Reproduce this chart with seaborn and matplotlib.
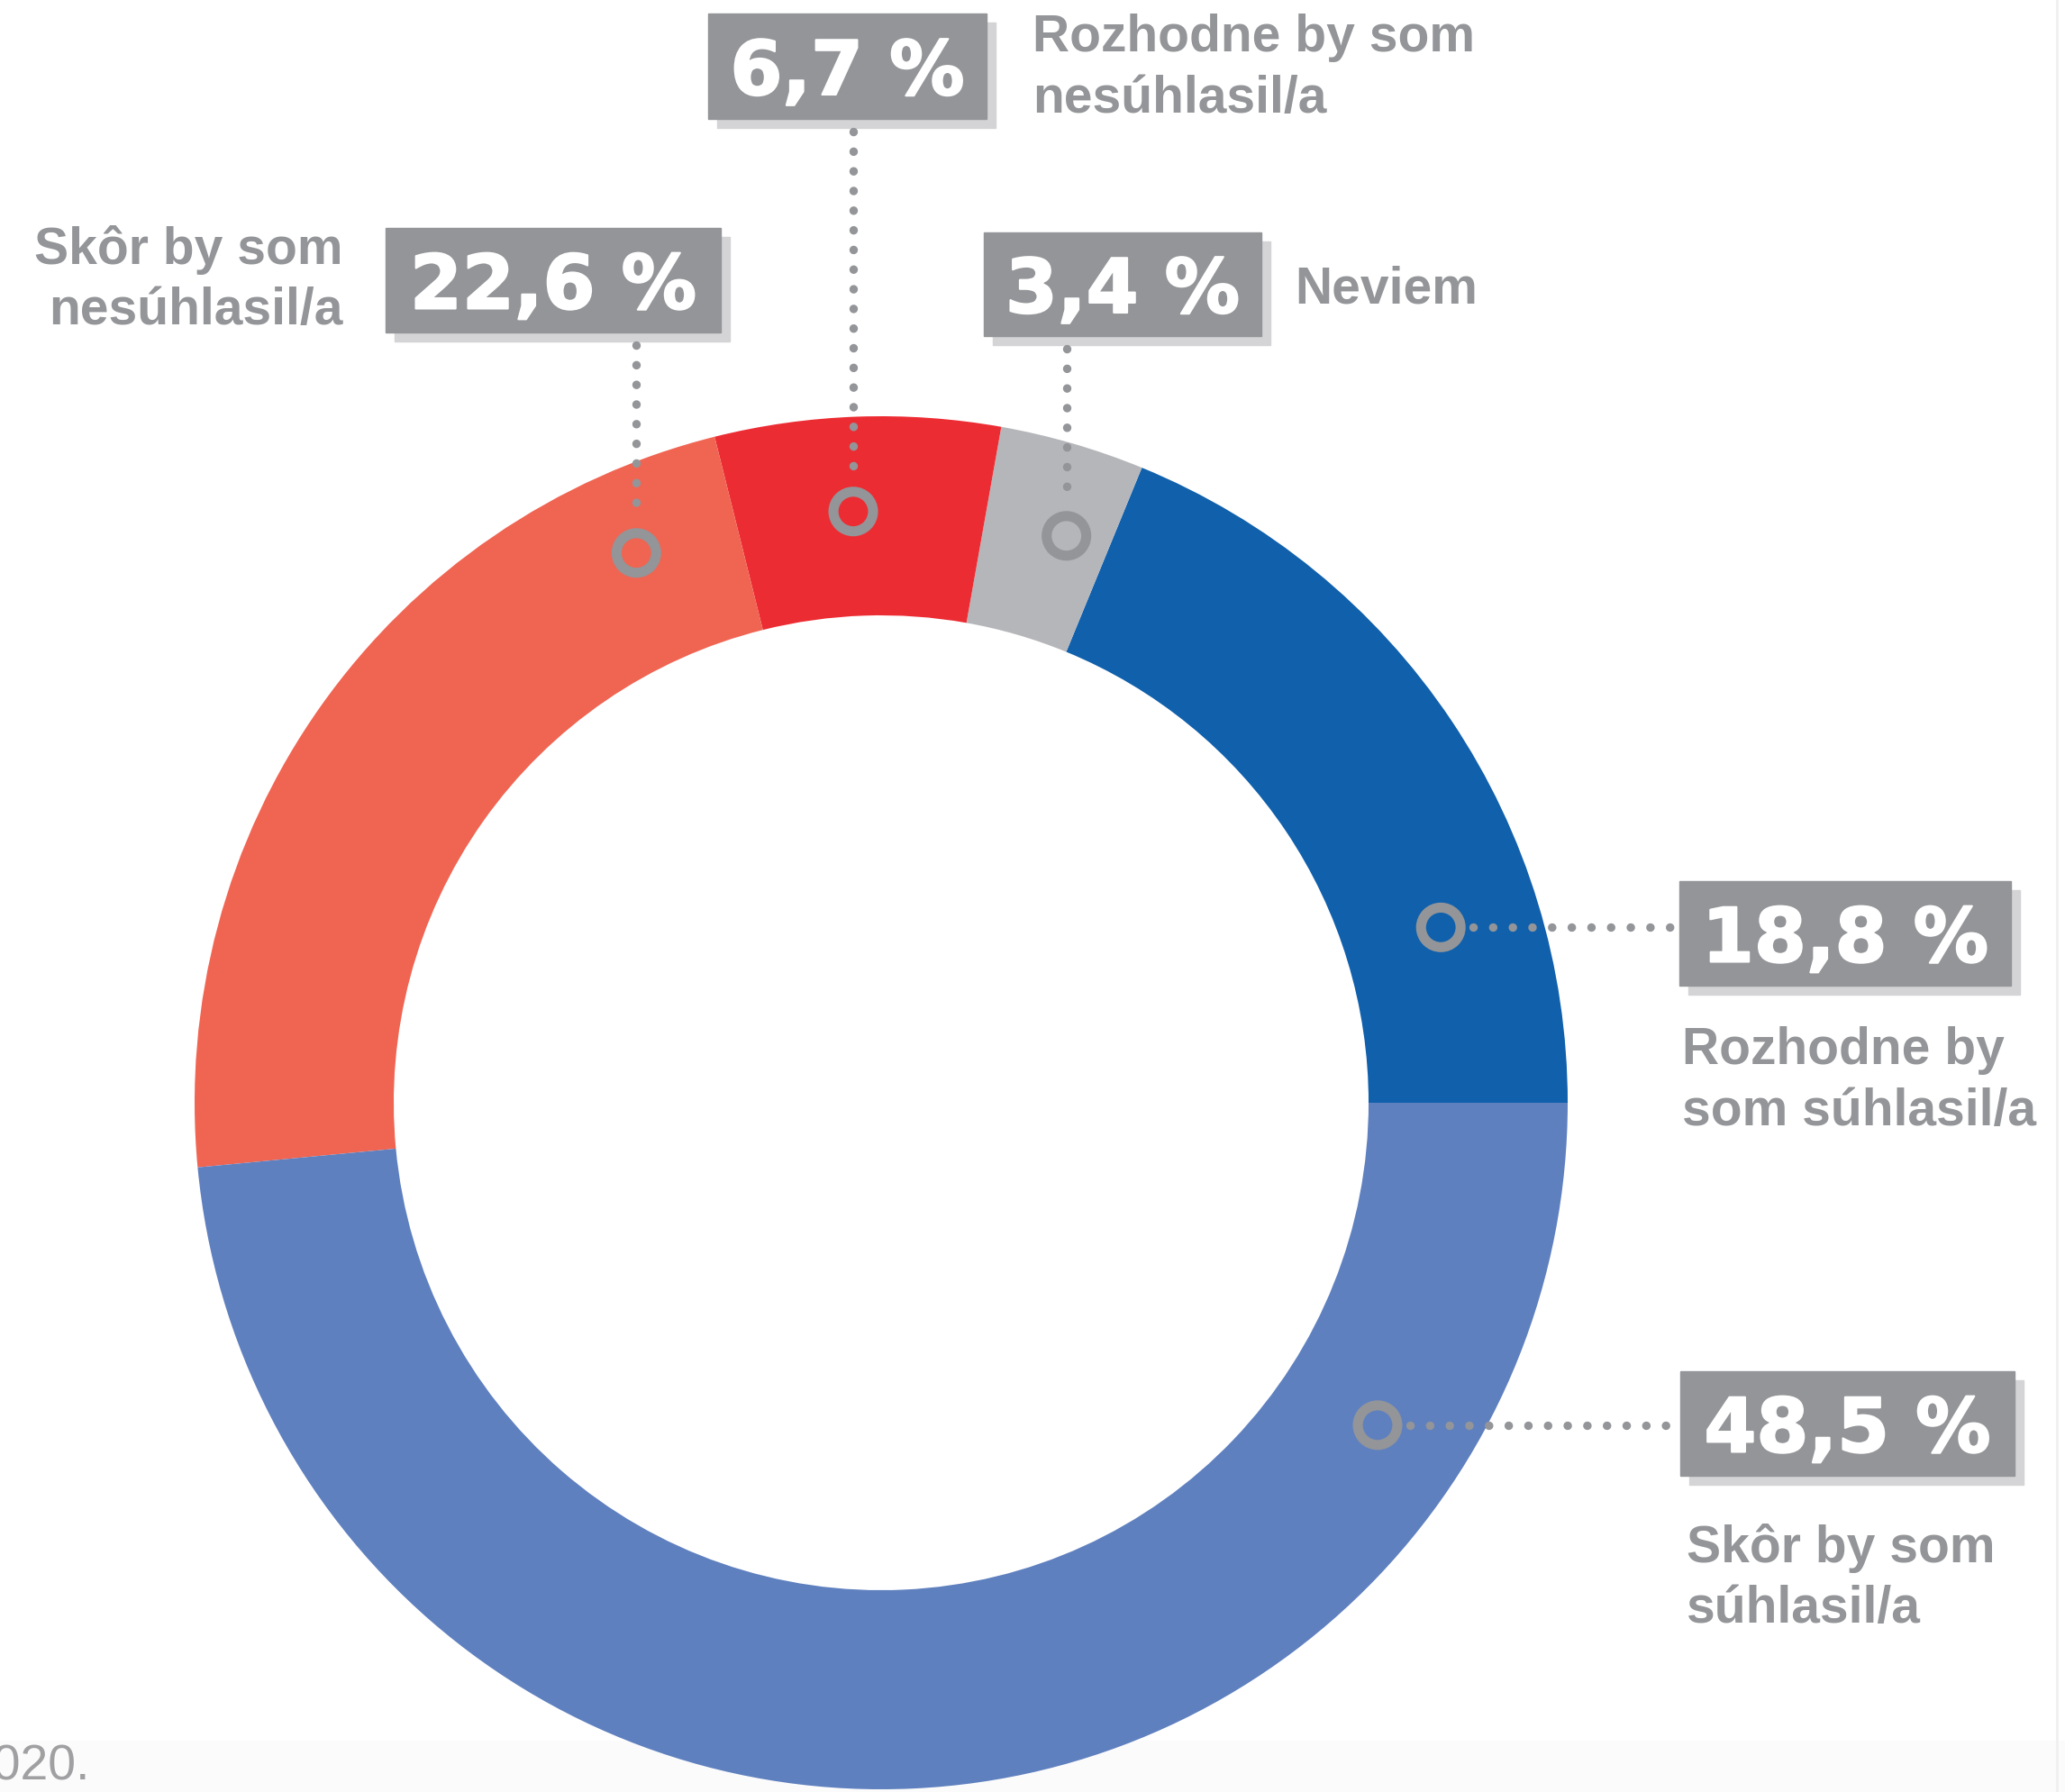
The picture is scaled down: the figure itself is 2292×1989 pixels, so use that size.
import numpy as np
import pandas as pd
import matplotlib
matplotlib.use("Agg")
import matplotlib.pyplot as plt
import matplotlib.patheffects as pe
from matplotlib.patches import Rectangle
import seaborn as sns

# survey answers, drawn counter-clockwise from 3 o'clock
categories = ["Rozhodne by som\nsúhlasil/a", "Neviem", "Rozhodne by som\nnesúhlasil/a",
              "Skôr by som\nnesúhlasil/a", "Skôr by som\nsúhlasil/a"]
shares = [18.8, 3.4, 6.7, 22.6, 48.5]
value_labels = ["18,8 %", "3,4 %", "6,7 %", "22,6 %", "48,5 %"]
side_labels = ["Rozhodne by\nsom súhlasil/a", "Neviem", "Rozhodne by som\nnesúhlasil/a",
               "Skôr by som\nnesúhlasil/a", "Skôr by som\nsúhlasil/a"]
colors = ["#1060AC", "#B5B6BA", "#EC2C33", "#F06452", "#5F80BF"]

# layout (pixel coords, y measured from top)
W, H = 2292, 1990
CX, CY, R_OUT, R_IN = 978, 1225, 762, 541
marker_angles = [17.4, 71.9, 92.7, 114.0, -33.0]
marker_radii = [651, 662, 657, 668, 657]
boxes = [(1864, 979, 2232, 1095), (1092, 259, 1400, 374), (786, 16, 1095, 133),
         (428, 254, 800, 370), (1865, 1523, 2236, 1639)]
connect = ["h", "v", "v", "v", "h"]
text_pos = [(1867, 1200, "left"), (1437, 322, "left"), (1146, 76, "left"),
            (380, 311, "right"), (1872, 1752, "left")]

GREY = "#939598"

sns.set_theme(style="white")
plt.rcParams["font.family"] = ["Liberation Sans", "DejaVu Sans"]

fig = plt.figure(figsize=(W / 100, H / 100), dpi=100)
ax = fig.add_axes([0, 0, 1, 1])

def y(py):
    return H - py

ax.pie(shares, colors=sns.color_palette(colors), startangle=0, counterclock=True,
       radius=R_OUT, center=(CX, y(CY)),
       wedgeprops=dict(width=R_OUT - R_IN, linewidth=0))
ax.set_xlim(0, W)
ax.set_ylim(0, H)
ax.set_aspect("equal")
ax.axis("off")

# faint page details
ax.add_patch(Rectangle((0, 0), W, H - 1933, color="#FBFBFB", zorder=0.5))
ax.plot([2283, 2283], [0, H], color="#F0F0F0", lw=2, zorder=0.5)
ax.text(100, y(1962), "2020.", ha="right", va="center", fontsize=40,
        color="#A0A0A3", fontweight="light")

# ring markers
rad = np.deg2rad(marker_angles)
mk = pd.DataFrame({
    "x": CX + np.array(marker_radii) * np.cos(rad),
    "y": y(CY) + np.array(marker_radii) * np.sin(rad),
    "cat": categories,
})
sns.scatterplot(data=mk, x="x", y="y", ax=ax, s=1000, marker="o",
                facecolors="none", edgecolor=GREY, linewidth=8,
                legend=False, zorder=5)

ring_r = 26
for i, (x0, y0, x1, y1) in enumerate(boxes):
    mx, my = mk.x[i], mk.y[i]
    if connect[i] == "v":
        ax.plot([mx, mx], [y(y1) - 14, my + ring_r + 10], color=GREY, lw=6.8,
                linestyle=(0, (0.01, 2.3)), dash_capstyle="round", zorder=4)
    else:
        ax.plot([mx + ring_r + 10, x0 - 10], [my, my], color=GREY, lw=6.8,
                linestyle=(0, (0.01, 2.3)), dash_capstyle="round", zorder=4)
    # shadow + box
    ax.add_patch(Rectangle((x0 + 10, y(y1) - 10), x1 - x0, y1 - y0,
                           color="#D4D4D6", zorder=3))
    ax.add_patch(Rectangle((x0, y(y1)), x1 - x0, y1 - y0, color=GREY, zorder=3.5))
    ax.text((x0 + x1) / 2, y((y0 + y1) / 2) - 8, value_labels[i], ha="center",
            va="center", color="white", fontsize=60, fontweight="bold", zorder=6,
            family="DejaVu Sans",
            path_effects=[pe.withStroke(linewidth=1.5, foreground="white")])
    tx, ty, ha = text_pos[i]
    ax.text(tx, y(ty), side_labels[i], ha=ha, va="center", color=GREY,
            fontsize=41, fontweight="bold", linespacing=1.32, zorder=6,
            multialignment=ha)

fig.savefig("out.png", dpi=100)
